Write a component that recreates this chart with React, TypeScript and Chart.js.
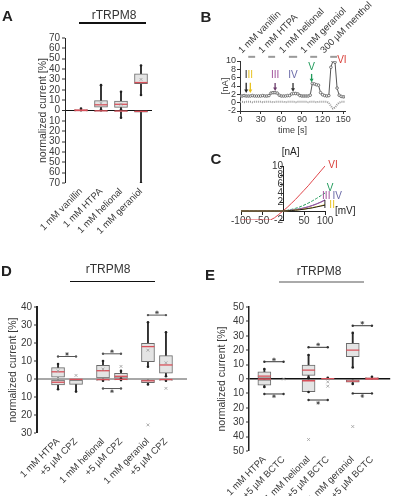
import React, { useEffect, useRef } from 'react';
import { Chart, registerables } from 'chart.js';
Chart.register(...registerables);

const FONT = "'Liberation Sans', Arial, Helvetica, sans-serif";
const TXT = '#3a3a3a';
Chart.defaults.font.family = FONT;

// ---------------- Panel A ----------------
const aLabels = ['1 mM vanillin', '1 mM HTPA', '1 mM helional', '1 mM geraniol'];
const aPos = [0, 1, 2, 3];
const aUpQ1 = [0, 3.3, 3, 26];
const aUpQ3 = [1, 9.6, 9, 35.5];
const aUpMed = [0.4, 5.5, 6, 27];
const aUpLo = [0, 1, 1, 15];
const aUpHi = [1.8, 24.5, 18, 43.5];
const aDnQ1 = [-0.6, -1, -1, -1.5];
const aDnQ3 = [0, 0, 0, 0];
const aDnMed = [0, -0.3, -0.5, -0.8];
const aDnLo = [-0.6, -1, -7, -70];
const aDnHi = [0, 0, 0, 0];
const aMeanX = [1, 2, 3];
const aMeanY = [7, 6, 30];

// ---------------- Panel B ----------------
const bTime = [0, 3, 6, 9, 12, 15, 18, 21, 24, 27, 30, 33, 36, 39, 42, 45, 48, 51, 54, 57, 60, 63, 66, 69, 72, 75, 78, 81, 84, 87, 90, 93, 96, 99, 102, 105, 108, 111, 114, 117, 120, 123, 126, 129, 132, 135, 138, 141, 144, 147, 150, 153];
const bUpper = [1.6, 1.6, 1.7, 1.6, 1.6, 1.6, 1.7, 1.6, 1.6, 1.6, 1.6, 1.7, 1.6, 1.6, 1.7, 2.3, 2.4, 2.4, 2.3, 1.8, 1.6, 1.6, 1.6, 1.7, 1.7, 2.1, 2.2, 2.2, 2.1, 1.7, 1.6, 1.6, 1.6, 1.6, 1.8, 4.6, 4.5, 4.3, 4.2, 2.4, 1.9, 1.7, 1.6, 1.7, 8.5, 10.0, 9.7, 3.5, 1.8, 1.5, 1.4, 1.4];
const bLower = [0.2, 0.2, 0.1, 0.2, 0.2, 0.2, 0.1, 0.2, 0.2, 0.2, 0.2, 0.1, 0.2, 0.2, 0.2, 0.2, 0.1, 0.2, 0.2, 0.2, 0.2, 0.2, 0.1, 0.2, 0.2, 0.2, 0.2, 0.1, 0.2, 0.2, 0.2, 0.2, 0.2, 0.1, 0.2, 0.2, 0.2, 0.1, 0.2, 0.2, 0.2, 0.2, 0.2, 0.0, -0.8, -1.4, -1.2, -0.5, 0.0, 0.2, 0.2, 0.2];
const bAppStart = [12, 41, 71, 102, 131];
const bAppEnd = [22, 51, 83, 112, 141];
const bAppLabels = ['1 mM vanillin', '1 mM HTPA', '1 mM helional', '1 mM geraniol', '300 µM menthol'];
const bNumLabels = ['I', 'II', 'III', 'IV', 'V', 'VI'];
const bNumTime = [9, 15, 51, 77, 104, 148];
const bNumValue = [6.6, 6.6, 6.6, 6.6, 8.6, 10.3];
const bArrowTop = [4.8, 4.8, 4.7, 4.7, 6.9, null];
const bArrowBottom = [2.3, 2.3, 2.8, 2.6, 4.9, null];
const bNumColors = ['#222222', '#e8c21e', '#a0509a', '#6a6aa8', '#1f9a5a', '#d9403a'];

// ---------------- Panel C ----------------
const cVolt = [-100, -80, -60, -40, -30, -20, -10, 0, 10, 20, 30, 40, 50, 60, 70, 80, 90, 100];
const cI = [0, 0, 0, 0, 0, 0, 0, 0, 0.05, 0.1, 0.18, 0.28, 0.4, 0.55, 0.7, 0.9, 1.1, 1.3];
const cII = [0, 0, 0, 0, 0, 0, 0, 0, 0.05, 0.12, 0.2, 0.3, 0.42, 0.58, 0.75, 0.95, 1.15, 1.4];
const cIII = [0, 0, 0, 0, 0, 0, 0, 0, 0.08, 0.18, 0.3, 0.45, 0.65, 0.9, 1.2, 1.55, 1.95, 2.4];
const cIV = [0, 0, 0, 0, 0, 0, 0, 0, 0.1, 0.2, 0.33, 0.5, 0.7, 0.95, 1.25, 1.6, 2.0, 2.5];
const cV = [0, 0, 0, 0, 0, 0, 0, 0, 0.15, 0.35, 0.6, 0.9, 1.3, 1.75, 2.25, 2.8, 3.4, 4.0];
const cVI = [-2, -2, -2, -2, -2, -1.5, -0.75, 0, 0.8, 1.7, 2.6, 3.6, 4.6, 5.6, 6.7, 7.8, 8.9, 10];
const cNumLabels = ['VI', 'V', 'III', 'IV', 'I', 'II'];
const cNumV = [119, 112, 103, 129, 100, 117];
const cNumI = [10.2, 5.1, 3.3, 3.3, 1.3, 1.3];
const cNumColors = ['#d9403a', '#1f9a5a', '#a0509a', '#6a6aa8', '#222222', '#e8c21e'];

// ---------------- Panel D ----------------
const dLabels = ['1 mM HTPA', '+5 µM CPZ', '1 mM helional', '+5 µM CPZ', '1 mM geraniol', '+5 µM CPZ'];
const dPos = [0, 1, 2.5, 3.5, 5, 6];
const dUpQ1 = [1, null, 0, 0.5, 9.6, 3.2];
const dUpQ3 = [6.3, null, 7.6, 3.1, 19.8, 13];
const dUpMed = [4, null, 4.6, 1.5, 18, 7.8];
const dUpLo = [1, null, 0, 0.3, 6.8, 1.5];
const dUpHi = [8.3, null, 10, 4.5, 31.5, 26];
const dDnQ1 = [-3.3, -3, -0.8, -0.5, -2, -0.8];
const dDnQ3 = [0, 0, 0, 0, 0, 0];
const dDnMed = [-1.8, -0.2, -0.3, -0.2, -1, -0.3];
const dDnLo = [-5.7, -7, -1, -0.6, -3, -1];
const dDnHi = [0, 0, 0, 0, 0, 0];
const dMeanX = [0, 2.5, 5, 6];
const dMeanY = [4.5, 5.5, 16, 9];
const dOutX = [5, 6, 1, 3.5];
const dOutY = [-25.5, -5.2, 2, 7];
const dSigX1 = [0, 2.5, 2.5, 5];
const dSigX2 = [1, 3.5, 3.5, 6];
const dSigY = [12.5, 14, -5.3, 35.5];
const dStarY = [13.9, 15.4, -6.8, 37];

// ---------------- Panel E ----------------
const eLabels = ['1 mM HTPA', '+5 µM BCTC', '1 mM helional', '+5 µM BCTC', '1 mM geraniol', '+5 µM BCTC'];
const ePos = [0, 1, 2.3, 3.3, 4.6, 5.6];
const eUpQ1 = [0, null, 2.5, 0, 15.5, 0];
const eUpQ3 = [5, null, 9.7, 0.5, 24.8, 1];
const eUpMed = [2, null, 6.2, 0.3, 20, 0.4];
const eUpLo = [0, null, 1, 0, 8, 0];
const eUpHi = [6.9, null, 16.7, 0.8, 32, 1.5];
const eDnQ1 = [-4.2, null, -8.8, null, -2.2, -0.5];
const eDnQ3 = [0, null, 0, null, 0, 0];
const eDnMed = [0, null, -1.2, null, -1.5, -0.1];
const eDnLo = [-5.6, null, -9, null, -3.5, -0.5];
const eDnHi = [0, null, 0, null, 0, 0];
const eOutX = [2.3, 4.6, 3.3, 3.3, 1];
const eOutY = [-42, -33, -2, -5, 0];
const eSigX1 = [0, 0, 2.3, 2.3, 4.6, 4.6];
const eSigX2 = [1, 1, 3.3, 3.3, 5.6, 5.6];
const eSigY = [12, -10.4, 22, -14.6, 37, -10];
const eStarY = [13.6, -12, 24, -16.6, 39, -11.8];

// ---------------- helpers ----------------
const textPlugin = {
  id: 'texts',
  afterDraw(chart: any, _a: any, opts: any) {
    const { ctx, scales } = chart;
    const xs = scales.x, ys = scales.y;
    ctx.save();
    (opts.arrows || []).forEach((a: any) => {
      const px = xs.getPixelForValue(a.x);
      const p1 = ys.getPixelForValue(a.y1);
      const p2 = ys.getPixelForValue(a.y2);
      ctx.strokeStyle = a.c; ctx.fillStyle = a.c; ctx.lineWidth = 1.3;
      ctx.beginPath(); ctx.moveTo(px, p1); ctx.lineTo(px, p2 - 2); ctx.stroke();
      ctx.beginPath(); ctx.moveTo(px - 2, p2 - 3.5); ctx.lineTo(px, p2); ctx.lineTo(px + 2, p2 - 3.5); ctx.closePath(); ctx.fill();
    });
    (opts.items || []).forEach((t: any) => {
      ctx.font = `${t.size || 10}px ${FONT}`;
      ctx.fillStyle = t.c;
      ctx.textAlign = 'center';
      ctx.textBaseline = 'middle';
      ctx.fillText(t.text, xs.getPixelForValue(t.x), ys.getPixelForValue(t.y));
    });
    ctx.restore();
  },
};

function boxChart(o: any) {
  const ds: any[] = [];
  const addBoxes = (q1: any[], q3: any[], med: any[], lo: any[], hi: any[]) => {
    const idx = o.pos.map((_: any, i: number) => i).filter((i: number) => q1[i] != null);
    ds.push({ type: 'bar', data: idx.map((i: number) => ({ x: o.pos[i], y: [lo[i], hi[i]] })), barThickness: 1.2, backgroundColor: '#2a2a2a', grouped: false, order: 9 });
    ds.push({ type: 'bar', data: idx.map((i: number) => ({ x: o.pos[i], y: [q1[i], q3[i]] })), barThickness: o.bw, backgroundColor: '#e4e4e4', borderColor: '#6a6a6a', borderWidth: 1, borderSkipped: false, grouped: false, order: 8 });
    const caps: any[] = [];
    idx.forEach((i: number) => {
      if (lo[i] < q1[i]) caps.push({ x: o.pos[i], y: lo[i] });
      if (hi[i] > q3[i]) caps.push({ x: o.pos[i], y: hi[i] });
    });
    ds.push({ type: 'scatter', data: caps, pointStyle: 'circle', pointRadius: 1.3, pointBackgroundColor: '#222', pointBorderWidth: 0, order: 7 });
    ds.push({ type: 'scatter', data: idx.map((i: number) => ({ x: o.pos[i], y: med[i] })), pointStyle: 'line', pointRadius: o.bw / 2, pointBorderColor: '#d8505a', borderColor: '#d8505a', pointBorderWidth: 1.3, order: 6 });
  };
  addBoxes(o.upQ1, o.upQ3, o.upMed, o.upLo, o.upHi);
  addBoxes(o.dnQ1, o.dnQ3, o.dnMed, o.dnLo, o.dnHi);
  if (o.meanX) ds.push({ type: 'scatter', data: o.meanX.map((x: number, i: number) => ({ x, y: o.meanY[i] })), pointStyle: 'crossRot', pointRadius: 2, pointBorderColor: '#9a9a9a', pointBorderWidth: 0.8, order: 2 });
  if (o.outX) ds.push({ type: 'scatter', data: o.outX.map((x: number, i: number) => ({ x, y: o.outY[i] })), pointStyle: 'crossRot', pointRadius: 2, pointBorderColor: '#9a9a9a', pointBorderWidth: 0.8, order: 2 });
  if (o.sigX1) {
    o.sigX1.forEach((x1: number, i: number) => {
      ds.push({ type: 'line', data: [{ x: x1, y: o.sigY[i] }, { x: o.sigX2[i], y: o.sigY[i] }], borderColor: o.sigColor, borderWidth: 1, pointRadius: 1.2, pointBackgroundColor: o.sigColor, pointBorderWidth: 0, fill: false, order: 1 });
    });
    ds.push({ type: 'scatter', data: o.sigX1.map((x1: number, i: number) => ({ x: (x1 + o.sigX2[i]) / 2, y: o.starY[i] })), pointStyle: 'star', pointRadius: 1.8, pointBorderColor: '#444', pointBorderWidth: 0.8, order: 1 });
  }
  return {
    type: 'bar',
    data: { datasets: ds },
    plugins: [],
    options: {
      animation: false, responsive: false, events: [],
      layout: { padding: o.pad },
      plugins: { legend: { display: false }, tooltip: { enabled: false } },
      scales: {
        x: {
          type: 'linear', min: o.xmin, max: o.xmax, offset: false,
          afterBuildTicks: (s: any) => { s.ticks = o.pos.map((v: number) => ({ value: v })); },
          afterFit: (s: any) => { s.height = o.xh; s.paddingLeft = 0; s.paddingRight = 0; },
          ticks: { autoSkip: false, minRotation: 45, maxRotation: 45, padding: 3, color: TXT, font: { family: FONT, size: 9.5 }, callback: (_v: any, i: number) => o.labels[i] },
          grid: { display: false, drawTicks: false },
          border: { display: false },
        },
        y: {
          min: o.ymin, max: o.ymax,
          afterFit: (s: any) => { s.width = o.yw; s.paddingTop = 0; s.paddingBottom = 0; },
          ticks: { autoSkip: false, stepSize: 10, padding: 2, color: TXT, font: { family: FONT, size: 10 }, callback: (v: number) => String(Math.abs(v)) },
          grid: {
            drawOnChartArea: true, drawTicks: true, tickLength: 3, tickColor: '#333', tickWidth: 1,
            color: (c: any) => (c.tick && c.tick.value === 0 ? o.zeroColor : 'rgba(0,0,0,0)'),
            lineWidth: (c: any) => (c.tick && c.tick.value === 0 ? o.zeroWidth : 0),
          },
          border: { color: '#222', width: o.axisWidth },
          title: { display: true, text: 'normalized current [%]', color: TXT, font: { family: FONT, size: 10.5 }, padding: { top: 4, bottom: 0 } },
        },
      },
    },
  };
}

const makeA = () => boxChart({
  pos: aPos, labels: aLabels, bw: 13,
  upQ1: aUpQ1, upQ3: aUpQ3, upMed: aUpMed, upLo: aUpLo, upHi: aUpHi,
  dnQ1: aDnQ1, dnQ3: aDnQ3, dnMed: aDnMed, dnLo: aDnLo, dnHi: aDnHi,
  meanX: aMeanX, meanY: aMeanY,
  xmin: -0.8, xmax: 3.55, ymin: -70, ymax: 70,
  pad: { left: 33, right: 48, top: 38, bottom: 10 }, xh: 62, yw: 32,
  zeroColor: '#111', zeroWidth: 1, axisWidth: 1,
});

const makeD = () => boxChart({
  pos: dPos, labels: dLabels, bw: 13,
  upQ1: dUpQ1, upQ3: dUpQ3, upMed: dUpMed, upLo: dUpLo, upHi: dUpHi,
  dnQ1: dDnQ1, dnQ3: dDnQ3, dnMed: dDnMed, dnLo: dDnLo, dnHi: dDnHi,
  meanX: dMeanX, meanY: dMeanY, outX: dOutX, outY: dOutY,
  sigX1: dSigX1, sigX2: dSigX2, sigY: dSigY, starY: dStarY, sigColor: '#555',
  xmin: -1.17, xmax: 7.17, ymin: -30, ymax: 40,
  pad: { left: 3, right: 13, top: 47, bottom: 7 }, xh: 60, yw: 34,
  zeroColor: '#a8a8a8', zeroWidth: 2, axisWidth: 2,
});

const makeE = () => boxChart({
  pos: ePos, labels: eLabels, bw: 13,
  upQ1: eUpQ1, upQ3: eUpQ3, upMed: eUpMed, upLo: eUpLo, upHi: eUpHi,
  dnQ1: eDnQ1, dnQ3: eDnQ3, dnMed: eDnMed, dnLo: eDnLo, dnHi: eDnHi,
  outX: eOutX, outY: eOutY,
  sigX1: eSigX1, sigX2: eSigX2, sigY: eSigY, starY: eStarY, sigColor: '#333',
  xmin: -0.8, xmax: 6.55, ymin: -50, ymax: 50,
  pad: { left: 12, right: 2, top: 47, bottom: 4 }, xh: 45, yw: 37,
  zeroColor: '#111', zeroWidth: 1.5, axisWidth: 1.5,
});

const makeB = () => {
  const ds: any[] = [];
  ds.push({ type: 'line', data: bTime.map((t, i) => ({ x: t, y: bLower[i] })), borderColor: '#9a9a9a', borderWidth: 2, borderDash: [1, 1], pointRadius: 0, fill: false });
  ds.push({ type: 'line', data: bTime.map((t, i) => ({ x: t, y: bUpper[i] })), borderColor: '#555', borderWidth: 1, pointRadius: 1.3, pointStyle: 'circle', pointBackgroundColor: '#fff', pointBorderColor: '#555', pointBorderWidth: 0.8, fill: false });
  bAppStart.forEach((s, i) => {
    ds.push({ type: 'line', data: [{ x: s, y: 11 }, { x: bAppEnd[i], y: 11 }], borderColor: '#9a9a9a', borderWidth: 2, pointRadius: 0, clip: false, fill: false });
  });
  return {
    type: 'line',
    data: { datasets: ds },
    plugins: [textPlugin],
    options: {
      animation: false, responsive: false, events: [],
      layout: { padding: { left: 18, right: 53, top: 0, bottom: 0 } },
      plugins: {
        legend: { display: false }, tooltip: { enabled: false },
        texts: {
          items: bNumLabels.map((t, i) => ({ text: t, x: bNumTime[i], y: bNumValue[i], c: bNumColors[i], size: 10 })),
          arrows: bNumLabels.map((_, i) => ({ x: bNumTime[i], y1: bArrowTop[i], y2: bArrowBottom[i], c: i === 2 ? '#6a3a6a' : i === 3 ? '#333' : bNumColors[i] })).filter((a) => a.y1 != null),
        },
      },
      scales: {
        x: {
          type: 'linear', min: 0, max: 152.5,
          afterFit: (s: any) => { s.height = 29; s.paddingLeft = 0; s.paddingRight = 0; },
          ticks: { autoSkip: false, stepSize: 30, includeBounds: false, padding: 0, maxRotation: 0, color: TXT, font: { family: FONT, size: 9 } },
          grid: { drawOnChartArea: false, tickLength: 3, color: '#333' },
          border: { color: '#333' },
          title: { display: true, text: 'time [s]', color: TXT, font: { family: FONT, size: 9 }, padding: { top: 0, bottom: 4 } },
        },
        x2: {
          type: 'linear', position: 'top', min: 0, max: 152.5,
          afterBuildTicks: (s: any) => { s.ticks = bAppStart.map((v) => ({ value: v })); },
          afterFit: (s: any) => { s.height = 61; s.paddingLeft = 0; s.paddingRight = 0; },
          ticks: { autoSkip: false, minRotation: 45, maxRotation: 45, padding: 5, color: TXT, font: { family: FONT, size: 9.5 }, callback: (_v: any, i: number) => bAppLabels[i] },
          grid: { display: false, drawTicks: false },
          border: { display: false },
        },
        y: {
          min: -2, max: 10,
          afterFit: (s: any) => { s.width = 22; s.paddingTop = 0; s.paddingBottom = 0; },
          ticks: { autoSkip: false, stepSize: 2, padding: 1, color: TXT, font: { family: FONT, size: 9 } },
          grid: { drawOnChartArea: false, tickLength: 3, color: '#333' },
          border: { color: '#333' },
          title: { display: true, text: '[nA]', color: TXT, font: { family: FONT, size: 9.5 }, padding: { top: 2, bottom: 0 } },
        },
      },
    },
  };
};

const makeC = () => {
  const series = [cI, cII, cIII, cIV, cV, cVI];
  const colors = ['#222222', '#e8c21e', '#a0509a', '#6a6aa8', '#1f9a5a', '#e0454a'];
  const ds = series.map((s, k) => ({
    data: cVolt.map((v, i) => ({ x: v, y: s[i] })), borderColor: colors[k], borderWidth: 1, pointRadius: 0, fill: false,
    borderDash: k === 4 ? [3, 1.5] : [],
  }));
  return {
    type: 'line',
    data: { datasets: ds },
    plugins: [textPlugin],
    options: {
      animation: false, responsive: false, events: [],
      layout: { padding: { left: 41, right: 73, top: 26, bottom: 30 } },
      plugins: {
        legend: { display: false }, tooltip: { enabled: false },
        texts: {
          items: [
            ...cNumLabels.map((t, i) => ({ text: t, x: cNumV[i], y: cNumI[i], c: cNumColors[i], size: 10 })),
            { text: '[mV]', x: 148, y: -0.1, c: '#222', size: 10 },
            { text: '[nA]', x: 18, y: 13.1, c: '#222', size: 10 },
          ],
        },
      },
      scales: {
        x: {
          type: 'linear', min: -100, max: 100, position: { y: 0 },
          ticks: { autoSkip: false, stepSize: 50, padding: 1, maxRotation: 0, color: TXT, font: { family: FONT, size: 10 }, callback: (v: number) => (v === 0 ? '' : String(v)) },
          grid: { drawOnChartArea: false, tickLength: 3, color: '#222' },
          border: { color: '#222' },
        },
        y: {
          type: 'linear', min: -2, max: 10, position: { x: 0 },
          ticks: { autoSkip: false, stepSize: 2, padding: 1, color: TXT, font: { family: FONT, size: 10 }, callback: (v: number) => (v === 0 ? '' : String(v)) },
          grid: { drawOnChartArea: false, tickLength: 3, color: '#222' },
          border: { color: '#222' },
        },
      },
    },
  };
};

function ChartCanvas({ left, top, width, height, make }: any) {
  const ref = useRef<HTMLCanvasElement>(null);
  useEffect(() => {
    const chart = new Chart(ref.current as any, make());
    return () => chart.destroy();
  }, []);
  return <canvas ref={ref} width={width} height={height} style={{ position: 'absolute', left, top, width, height }} />;
}

const Txt = ({ x, y, s = 12, b = false, c = '#222', children }: any) => (
  <div style={{ position: 'absolute', left: x, top: y, transform: 'translate(-50%,-50%)', fontFamily: FONT, fontSize: s, fontWeight: b ? 'bold' : 'normal', color: c, whiteSpace: 'nowrap', lineHeight: 1 }}>{children}</div>
);
const HBar = ({ x1, x2, y, h = 1, c = '#000' }: any) => (
  <div style={{ position: 'absolute', left: x1, top: y - h / 2, width: x2 - x1, height: h, background: c }} />
);

export default function App() {
  return (
    <div style={{ position: 'absolute', left: 0, top: 0, width: 398, height: 500, background: '#fff', overflow: 'hidden' }}>
      <ChartCanvas left={0} top={0} width={200} height={255} make={makeA} />
      <ChartCanvas left={200} top={0} width={198} height={140} make={makeB} />
      <ChartCanvas left={200} top={140} width={198} height={110} make={makeC} />
      <ChartCanvas left={0} top={260} width={200} height={240} make={makeD} />
      <ChartCanvas left={200} top={260} width={198} height={240} make={makeE} />
      <Txt x={7.5} y={15} s={15} b>A</Txt>
      <Txt x={206} y={16} s={15} b>B</Txt>
      <Txt x={216} y={158} s={15} b>C</Txt>
      <Txt x={6.5} y={270} s={15} b>D</Txt>
      <Txt x={210} y={274} s={15} b>E</Txt>
      <Txt x={114} y={15} s={12} c="#333">rTRPM8</Txt>
      <HBar x1={79} x2={146} y={23} h={2} c="#111" />
      <Txt x={108} y={269} s={12} c="#333">rTRPM8</Txt>
      <HBar x1={70} x2={155} y={281} h={1} c="#111" />
      <Txt x={319} y={271} s={12} c="#333">rTRPM8</Txt>
      <HBar x1={279} x2={364} y={282} h={2} c="#aaa" />
    </div>
  );
}
